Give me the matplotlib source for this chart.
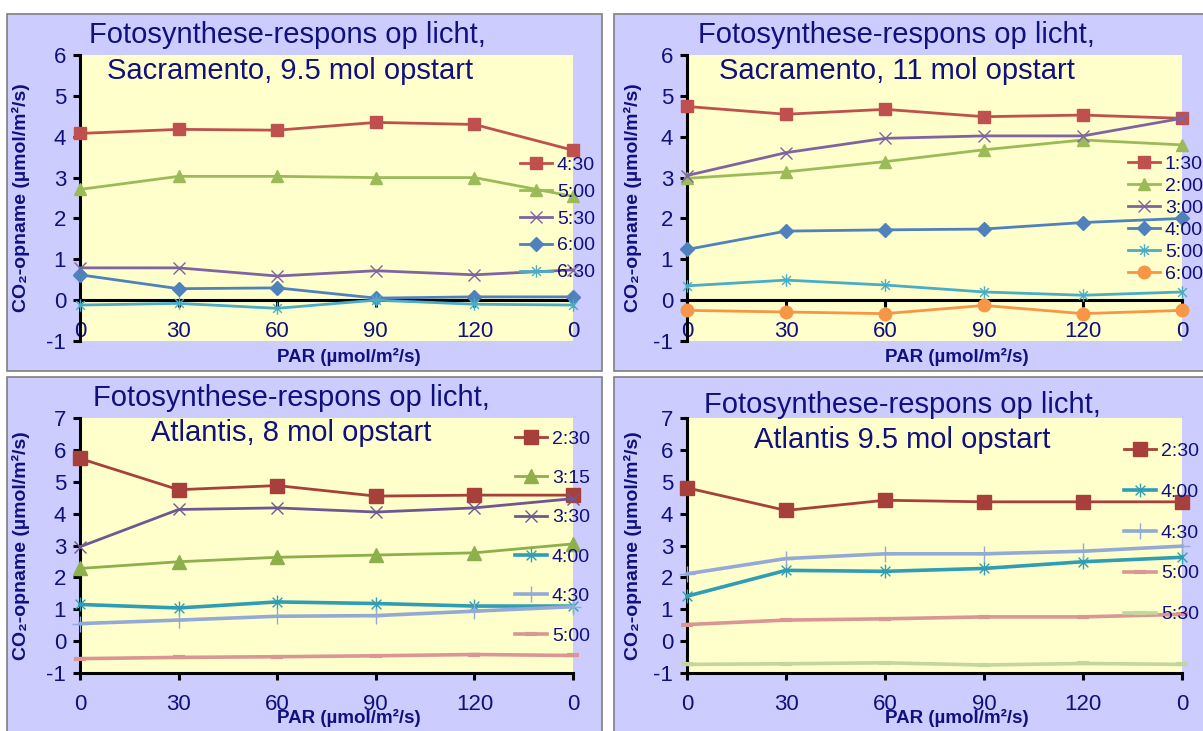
import numpy as np
import matplotlib.pyplot as plt
from matplotlib.patches import Rectangle
from matplotlib.path import Path

plt.rcParams['font.family'] = ['Liberation Sans', 'DejaVu Sans']
plt.rcParams['axes.unicode_minus'] = False

W, H = 1203, 731
navy = '#10107E'

# x categories (PAR, umol/m2/s)
par_labels = ['0', '30', '60', '90', '120', '0']

# Sacramento, 9.5 mol opstart
sac95_times = ['4:30', '5:00', '5:30', '6:00', '6:30']
sac95_vals = [
    [4.08, 4.18, 4.16, 4.35, 4.30, 3.67],
    [2.71, 3.03, 3.03, 3.00, 3.00, 2.54],
    [0.79, 0.79, 0.59, 0.72, 0.62, 0.74],
    [0.62, 0.28, 0.30, 0.05, 0.08, 0.08],
    [-0.12, -0.08, -0.20, 0.0, -0.10, -0.12],
]

# Sacramento, 11 mol opstart
sac11_times = ['1:30', '2:00', '3:00', '4:00', '5:00', '6:00']
sac11_vals = [
    [4.74, 4.55, 4.67, 4.49, 4.53, 4.45],
    [2.98, 3.14, 3.39, 3.68, 3.92, 3.80],
    [3.05, 3.61, 3.96, 4.02, 4.02, 4.45],
    [1.24, 1.69, 1.72, 1.74, 1.90, 2.00],
    [0.35, 0.49, 0.37, 0.20, 0.12, 0.20],
    [-0.25, -0.29, -0.33, -0.13, -0.33, -0.25],
]

# Atlantis, 8 mol opstart
atl8_times = ['2:30', '3:15', '3:30', '4:00', '4:30', '5:00']
atl8_vals = [
    [5.73, 4.75, 4.88, 4.55, 4.58, 4.58],
    [2.28, 2.49, 2.63, 2.70, 2.77, 3.05],
    [2.96, 4.13, 4.18, 4.05, 4.18, 4.47],
    [1.15, 1.04, 1.23, 1.18, 1.10, 1.10],
    [0.55, 0.66, 0.78, 0.80, 0.94, 1.08],
    [-0.55, -0.51, -0.49, -0.46, -0.42, -0.45],
]

# Atlantis 9.5 mol opstart
atl95_times = ['2:30', '4:00', '4:30', '5:00', '5:30']
atl95_vals = [
    [4.81, 4.10, 4.42, 4.37, 4.37, 4.37],
    [1.41, 2.22, 2.19, 2.28, 2.49, 2.63],
    [2.11, 2.59, 2.74, 2.74, 2.82, 2.98],
    [0.52, 0.66, 0.70, 0.76, 0.76, 0.84],
    [-0.73, -0.71, -0.68, -0.75, -0.70, -0.73],
]

star = Path([(0, -1), (0, 1), (-0.7, -0.7), (0.7, 0.7), (-0.7, 0.7), (0.7, -0.7)],
            [Path.MOVETO, Path.LINETO] * 3)

# (color, marker, markersize, linewidth, markeredgewidth)
sty_sq = ('#C0504D', 's', 9, 2.0, 1)
sty_tri = ('#9BBB59', '^', 9, 2.0, 1)
sty_x = ('#8064A2', 'x', 9, 2.0, 1.0)
sty_dia = ('#4F81BD', 'D', 7, 2.0, 1)
sty_star = ('#4BACC6', star, 9, 2.0, 1.0)
sty_circ = ('#F79646', 'o', 9, 2.0, 1)

sty_sq2 = ('#A7403A', 's', 10, 2.0, 1)
sty_tri2 = ('#8DB04C', '^', 10, 2.0, 1)
sty_x2 = ('#6F5892', 'x', 9, 2.0, 1.0)
sty_star2 = ('#2F9DB3', star, 10, 2.6, 1.0)
sty_plus2 = ('#93AAD6', '+', 11, 2.6, 1.0)
sty_dash2 = ('#D99694', '_', 8, 2.6, 3.0)
sty_dash3 = ('#C3D69B', '_', 8, 2.6, 3.0)

fig = plt.figure(figsize=(W / 100, H / 100), dpi=100)


def fx(px):
    return px / W


def fy(py):
    return 1 - py / H


def panel(box, axbox, titles, times, vals, styles, ylim, xaxis_y, leg_top, leg_x, leg_sp,
          xlab_pos, ylab_x):
    x0, y0, x1, y1 = box
    fig.patches.append(Rectangle((fx(x0), fy(y1)), fx(x1 - x0), (y1 - y0) / H,
                                 transform=fig.transFigure, facecolor='#CCCCFF',
                                 edgecolor='#7F7F7F', linewidth=1.2, zorder=-5))
    l, t, r, b = axbox
    ax = fig.add_axes([fx(l), fy(b), fx(r - l), (b - t) / H])
    ax.set_facecolor('#FFFFCC')
    x = np.arange(len(par_labels))
    for lab, v, s in zip(times, vals, styles):
        c, m, ms, lw, mew = s
        ax.plot(x, v, color=c, marker=m, markersize=ms, linewidth=lw,
                markeredgewidth=mew, markeredgecolor=c, label=lab, clip_on=False, zorder=3)
    ax.set_xlim(0, 5)
    ax.set_ylim(*ylim)
    ax.set_yticks(range(ylim[0], ylim[1] + 1))
    ax.set_xticks(x)
    ax.set_xticklabels(par_labels)
    for sp in ['top', 'right']:
        ax.spines[sp].set_visible(False)
    ax.spines['bottom'].set_position(('data', xaxis_y))
    ax.spines['left'].set_linewidth(2.2)
    ax.spines['bottom'].set_linewidth(2.2)
    ax.spines['bottom'].set_zorder(2)
    ax.tick_params(axis='both', direction='out', length=5, width=2.2, colors='black',
                   labelcolor=navy, labelsize=16)
    ax.tick_params(axis='y', pad=5)
    ax.tick_params(axis='x', pad=10 if xaxis_y == 0 else 10)

    for (tx, ty, txt) in titles:
        fig.text(fx(tx), fy(ty), txt, ha='center', va='center', fontsize=21, color=navy)

    fig.text(fx(xlab_pos[0]), fy(xlab_pos[1]), 'PAR (µmol/m²/s)', ha='center', va='center',
             fontsize=13.5, fontweight='bold', color=navy)
    fig.text(fx(ylab_x), fy((t + b) / 2), 'CO₂-opname (µmol/m²/s)', ha='center', va='center',
             rotation=90, fontsize=14, fontweight='bold', color=navy)

    ax.legend(loc='upper left', bbox_to_anchor=(fx(leg_x), fy(leg_top)),
              bbox_transform=fig.transFigure, frameon=False, fontsize=14,
              labelcolor=navy, handlelength=1.65, handletextpad=0.25, borderpad=0,
              borderaxespad=0, labelspacing=leg_sp)
    return ax


panel((7, 14, 602, 371), (80, 55, 573, 341),
      [(287, 35, 'Fotosynthese-respons op licht,'), (290, 71, 'Sacramento, 9.5 mol opstart')],
      sac95_times, sac95_vals, [sty_sq, sty_tri, sty_x, sty_dia, sty_star],
      (-1, 6), 0, 156, 520, 0.48, (349, 357), 21)

panel((614, 14, 1215, 371), (687, 55, 1182, 341),
      [(896, 35, 'Fotosynthese-respons op licht,'), (897, 71, 'Sacramento, 11 mol opstart')],
      sac11_times, sac11_vals, [sty_sq, sty_tri, sty_x, sty_dia, sty_star, sty_circ],
      (-1, 6), 0, 155, 1128, 0.23, (957, 357), 633)

panel((7, 377, 602, 740), (80, 418, 573, 673),
      [(291, 398, 'Fotosynthese-respons op licht,'), (291, 433, 'Atlantis, 8 mol opstart')],
      atl8_times, atl8_vals, [sty_sq2, sty_tri2, sty_x2, sty_star2, sty_plus2, sty_dash2],
      (-1, 7), -1, 430, 515, 1.12, (349, 718), 21)

panel((614, 377, 1215, 740), (687, 418, 1182, 673),
      [(902, 405, 'Fotosynthese-respons op licht,'), (902, 440, 'Atlantis 9.5 mol opstart')],
      atl95_times, atl95_vals, [sty_sq2, sty_star2, sty_plus2, sty_dash2, sty_dash3],
      (-1, 7), -1, 442, 1124, 1.2, (957, 718), 633)

fig.savefig('out.png', dpi=100, facecolor='white')
